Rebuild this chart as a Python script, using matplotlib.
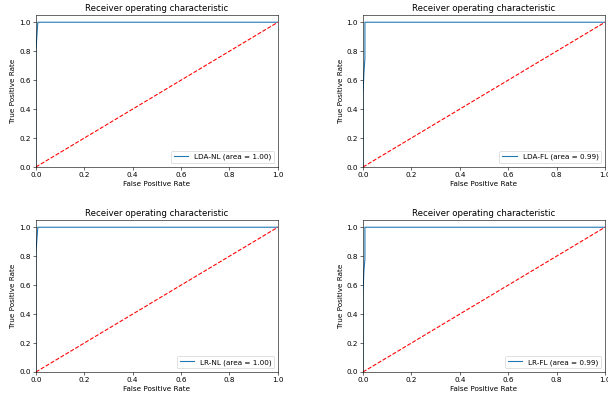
import matplotlib
matplotlib.use("Agg")
import matplotlib.pyplot as plt

names = ["LDA-NL", "LDA-FL", "LR-NL", "LR-FL"]
areas = [1.00, 0.99, 1.00, 0.99]
fprs = [
    [0.0, 0.0, 0.008, 1.0],
    [0.0, 0.0, 0.004, 0.008, 0.008, 1.0],
    [0.0, 0.0, 0.008, 1.0],
    [0.0, 0.0, 0.004, 0.008, 0.008, 1.0],
]
tprs = [
    [0.0, 0.8, 1.0, 1.0],
    [0.0, 0.5, 0.65, 0.75, 1.0, 1.0],
    [0.0, 0.82, 1.0, 1.0],
    [0.0, 0.55, 0.7, 0.78, 1.0, 1.0],
]

fig = plt.figure(figsize=(608 / 52, 400 / 52), dpi=52)
lefts = [0.059, 0.597]
bottoms = [0.5825, 0.07]
w = 0.398
h = 0.38

for i in range(4):
    ax = fig.add_axes([lefts[i % 2], bottoms[i // 2], w, h])
    ax.plot(fprs[i], tprs[i], label="%s (area = %0.2f)" % (names[i], areas[i]))
    ax.plot([0, 1], [0, 1], "r--")
    ax.set_xlim([0.0, 1.0])
    ax.set_ylim([0.0, 1.05])
    ax.set_xlabel("False Positive Rate")
    ax.set_ylabel("True Positive Rate")
    ax.set_title("Receiver operating characteristic")
    ax.legend(loc="lower right")

fig.savefig("out.png", dpi=52)
